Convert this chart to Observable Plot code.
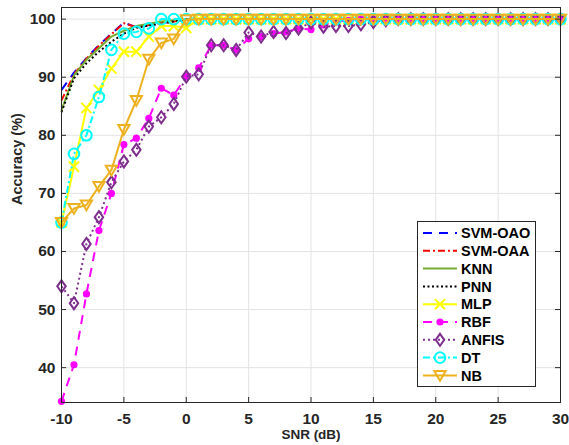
<!DOCTYPE html>
<html>
<head>
<meta charset="utf-8">
<script src="https://cdn.jsdelivr.net/npm/d3@7"></script>
<script src="https://cdn.jsdelivr.net/npm/@observablehq/plot@0.6"></script>
<style>
  html, body { margin: 0; padding: 0; background: #fff; }
</style>
</head>
<body>
<div id="chart"></div>
<script>
const snr = [-10,-9,-8,-7,-6,-5,-4,-3,-2,-1,0,1,2,3,4,5,6,7,8,9,10,11,12,13,14,15,16,17,18,19,20,21,22,23,24,25,26,27,28,29,30];

const seriesNames = ["SVM-OAO","SVM-OAA","KNN","PNN","MLP","RBF","ANFIS","DT","NB"];

const svmOAO = [87.8,90.8,93.3,95.5,97.5,99.4,98.6,99.0,99.3,99.6,99.9,100,100,100,100,100,100,100,100,100,100,100,100,100,100,100,100,100,100,100,100,100,100,100,100,100,100,100,100,100,100];
const svmOAA = [86.0,90.5,93.2,95.4,97.4,99.3,98.6,99.0,99.3,99.6,99.9,100,100,100,100,100,100,100,100,100,100,100,100,100,100,100,100,100,100,100,100,100,100,100,100,100,100,100,100,100,100];
const knn    = [84.3,90.3,93.0,95.0,97.0,98.0,98.8,99.2,99.6,99.8,100,100,100,100,100,100,100,100,100,100,100,100,100,100,100,100,100,100,100,100,100,100,100,100,100,100,100,100,100,100,100];
const pnn    = [84.0,89.8,92.4,94.4,96.1,97.5,98.5,98.9,99.2,99.6,99.9,100,100,100,100,100,100,100,100,100,100,100,100,100,100,100,100,100,100,100,100,100,100,100,100,100,100,100,100,100,100];
const mlp    = [65.0,74.6,84.7,87.8,91.5,94.4,94.4,97.0,98.8,98.8,98.5,100,100,100,100,100,100,100,100,100,100,100,100,100,100,100,100,100,100,100,100,100,100,100,100,100,100,100,100,100,100];
const rbf    = [34.2,40.5,52.7,63.6,70.0,78.4,79.5,82.9,88.1,86.9,90.1,91.6,95.5,95.5,94.7,96.6,97.0,97.5,97.8,98.4,98.2,99.0,99.5,99.8,100,100,100,100,100,100,100,100,100,100,100,100,100,100,100,100,100];
const anfis  = [54.0,51.1,61.3,65.9,71.9,75.5,77.5,81.5,83.1,85.4,90.1,90.5,95.5,95.5,94.7,97.7,97.0,97.8,97.6,98.4,99.4,98.7,98.8,98.8,99.1,99.5,99.8,100,100,100,100,100,100,100,100,100,100,100,100,100,100];
const dt     = [65.0,76.8,80.0,86.6,94.7,97.5,97.8,98.4,100,100,100,100,100,100,100,100,100,100,100,100,100,100,100,100,100,100,100,100,100,100,100,100,100,100,100,100,100,100,100,100,100];
const nb     = [65.0,67.4,68.0,71.2,74.0,81.0,86.0,93.1,95.9,96.6,99.9,100,100,100,100,100,100,100,100,100,100,100,100,100,100,100,100,100,100,100,100,100,100,100,100,100,100,100,100,100,100];

const xTicks = [-10,-5,0,5,10,15,20,25,30];
const yTicks = [40,50,60,70,80,90,100];
const xLabel = "SNR (dB)";
const yLabel = "Accuracy (%)";

const valuesBySeries = [svmOAO, svmOAA, knn, pnn, mlp, rbf, anfis, dt, nb];

// custom marker symbols (MATLAB-like)
const diamondTall = {
  draw(ctx, size) {
    const r = Math.sqrt(size / Math.PI);
    const h = r * 1.2, w = r * 0.85;
    ctx.moveTo(0, -h); ctx.lineTo(w, 0); ctx.lineTo(0, h); ctx.lineTo(-w, 0); ctx.closePath();
  }
};
const triangleDown = {
  draw(ctx, size) {
    const r = Math.sqrt(size / Math.PI);
    ctx.moveTo(-r, -r * 0.8); ctx.lineTo(r, -r * 0.8); ctx.lineTo(0, r * 0.95); ctx.closePath();
  }
};

const styles = {
  "SVM-OAO": {color: "#0000ff", dash: "9,7"},
  "SVM-OAA": {color: "#ff0000", dash: "7,3,2,3"},
  "KNN":     {color: "#77ac30", dash: null},
  "PNN":     {color: "#000000", dash: "2,2.5"},
  "MLP":     {color: "#ffff00", dash: null, symbol: "times", r: 4.7, fill: "none"},
  "RBF":     {color: "#ff00ff", dash: "9,7", symbol: "circle", r: 3.6, fill: "#ff00ff"},
  "ANFIS":   {color: "#7e2f8e", dash: "2,3", symbol: diamondTall, r: 5, fill: "none"},
  "DT":      {color: "#00ffff", dash: "7,3,2,3", symbol: "circle", r: 5.3, fill: "none"},
  "NB":      {color: "#edb120", dash: null, symbol: triangleDown, r: 5.6, fill: "none"}
};

const rows = [];
seriesNames.forEach((name, i) => {
  valuesBySeries[i].forEach((v, j) => rows.push({series: name, snr: snr[j], acc: v}));
});

const W = 569, H = 445;
const mL = 61, mR = 9, mT = 7, mB = 43;
const plotH = H - mT - mB, plotW = W - mL - mR;
const axisColor = "#262626";

const marks = [
  Plot.gridX(xTicks, {stroke: "#e3e3e3", strokeOpacity: 1, strokeWidth: 1}),
  Plot.gridY(yTicks, {stroke: "#e3e3e3", strokeOpacity: 1, strokeWidth: 1}),
];

seriesNames.forEach(name => {
  const s = styles[name];
  const d = rows.filter(r => r.series === name);
  marks.push(Plot.line(d, {x: "snr", y: "acc", stroke: s.color, strokeWidth: 2,
    strokeDasharray: s.dash || undefined, strokeLinecap: "butt", strokeLinejoin: "round"}));
  if (s.symbol) {
    marks.push(Plot.dot(d, {x: "snr", y: "acc", symbol: () => s.symbol, r: s.r,
      stroke: s.color, strokeWidth: s.symbol === "circle" && s.fill !== "none" ? 0 : 2, fill: s.fill}));
  }
});

// inward ticks on all four sides
marks.push(
  Plot.tickX(xTicks, {x: d => d, stroke: axisColor, strokeWidth: 1, insetTop: plotH - 5}),
  Plot.tickX(xTicks, {x: d => d, stroke: axisColor, strokeWidth: 1, insetBottom: plotH - 5}),
  Plot.tickY(yTicks, {y: d => d, stroke: axisColor, strokeWidth: 1, insetRight: plotW - 5}),
  Plot.tickY(yTicks, {y: d => d, stroke: axisColor, strokeWidth: 1, insetLeft: plotW - 5}),
  Plot.frame({stroke: axisColor, strokeWidth: 1}),
  Plot.axisX(xTicks, {tickSize: 0, tickPadding: 10, label: null, fill: axisColor, fontSize: 15.5, tickFormat: d => String(d)}),
  Plot.axisY(yTicks, {tickSize: 0, tickPadding: 6, label: null, fill: axisColor, fontSize: 15.5, tickFormat: d => String(d)}),
  Plot.text([xLabel], {frameAnchor: "bottom", dy: 36, text: d => d, fill: axisColor, fontSize: 13.5, fontWeight: "bold"}),
  Plot.text([yLabel], {frameAnchor: "left", dx: -44, rotate: -90, text: d => d, fill: axisColor, fontSize: 14.5, fontWeight: "bold"})
);

const chart = Plot.plot({
  width: W, height: H,
  marginLeft: mL, marginRight: mR, marginTop: mT, marginBottom: mB,
  x: {domain: [-10, 30]},
  y: {domain: [34, 102]},
  style: {fontFamily: "'Liberation Sans', Arial, sans-serif", fontWeight: "bold", fontSize: "15.5px", background: "#fff", color: axisColor},
  marks
});
document.getElementById("chart").appendChild(chart);

// Legend drawn inside the SVG
const svg = d3.select(chart);
const lg = svg.append("g").attr("class", "legend").attr("text-anchor", "start");
const lx = 417.5, ly = 221.5, lw = 118, lh = 165;
lg.append("rect").attr("x", lx).attr("y", ly).attr("width", lw).attr("height", lh)
  .attr("fill", "#fff").attr("stroke", axisColor).attr("stroke-width", 1);
seriesNames.forEach((name, i) => {
  const s = styles[name];
  const cy = 233 + i * 17.8;
  lg.append("line").attr("x1", 423).attr("x2", 457).attr("y1", cy).attr("y2", cy)
    .attr("stroke", s.color).attr("stroke-width", 2)
    .attr("stroke-dasharray", s.dash || null);
  if (s.symbol) {
    const sym = typeof s.symbol === "string"
      ? (s.symbol === "times" ? d3.symbolTimes : d3.symbolCircle) : s.symbol;
    lg.append("path").attr("transform", `translate(440,${cy})`)
      .attr("d", d3.symbol(sym, Math.PI * s.r * s.r)())
      .attr("fill", s.fill === "none" ? "none" : s.fill)
      .attr("stroke", s.fill === "none" ? s.color : "none")
      .attr("stroke-width", 2);
  }
  lg.append("text").attr("x", 461).attr("y", cy).attr("dy", "0.36em")
    .attr("text-anchor", "start")
    .attr("fill", "#000").attr("font-size", 14.5).attr("font-weight", "bold")
    .text(name);
});
</script>
</body>
</html>
